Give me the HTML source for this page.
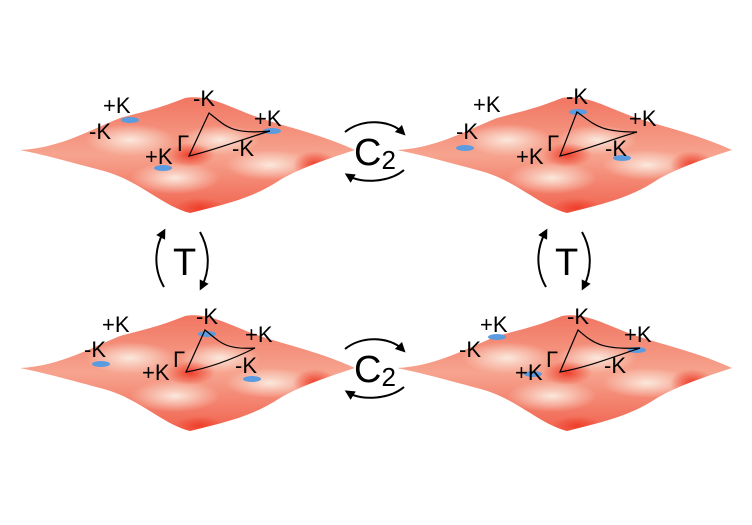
<!DOCTYPE html>
<html><head><style>body{margin:0;background:#fff}svg{display:block}text{font-family:"Liberation Sans",sans-serif;fill:#000}</style></head><body>
<svg width="752" height="525" viewBox="0 0 752 525" xmlns="http://www.w3.org/2000/svg">
<defs>
<linearGradient id="g" x1="0" y1="0" x2="0" y2="1">
<stop offset="0" stop-color="#f0705c"/><stop offset="0.5" stop-color="#f6a48f"/><stop offset="1" stop-color="#f05a46"/></linearGradient>
<radialGradient id="l"><stop offset="0" stop-color="#fbe8dc"/><stop offset="1" stop-color="#fbe8dc" stop-opacity="0"/></radialGradient>
<radialGradient id="d"><stop offset="0" stop-color="#ee3e2a"/><stop offset="1" stop-color="#ee3e2a" stop-opacity="0"/></radialGradient>
<clipPath id="c"><path d="M20,150 C60,148 90,130 120,118 C150,110 160,108 185,98 C210,94 230,108 260,118 C290,128 320,134 355,150 C330,158 300,168 280,180 C250,200 220,205 190,213 C160,205 140,180 100,170 C70,162 45,155 20,150 Z"/></clipPath>
<g id="s">
<g clip-path="url(#c)">
<rect x="0" y="90" width="360" height="130" fill="url(#g)"/>
<ellipse cx="130" cy="140" rx="45" ry="16" fill="url(#l)"/>
<ellipse cx="220" cy="140" rx="40" ry="15" fill="url(#l)"/>
<ellipse cx="175" cy="178" rx="45" ry="16" fill="url(#l)"/>
<ellipse cx="270" cy="165" rx="45" ry="15" fill="url(#l)"/>
<ellipse cx="190" cy="155" rx="25" ry="12" fill="url(#d)"/>
<ellipse cx="315" cy="165" rx="22" ry="14" fill="url(#d)"/>
<ellipse cx="200" cy="208" rx="25" ry="10" fill="url(#d)"/>
</g></g>
<marker id="a" markerWidth="5" markerHeight="5" refX="2.5" refY="2.5" orient="auto"><path d="M0,0L5,2.5L0,5Z" fill="#000"/></marker>
</defs>
<use href="#s"/>
<use href="#s" transform="translate(377,0)"/>
<use href="#s" transform="translate(0,218)"/>
<use href="#s" transform="translate(377,218)"/>
<g fill="#5b9be0">
<ellipse cx="130" cy="120" rx="9" ry="3"/><ellipse cx="163" cy="168" rx="9" ry="3"/><ellipse cx="272" cy="131" rx="9" ry="3"/>
<ellipse cx="465" cy="148" rx="9" ry="3"/><ellipse cx="578" cy="112" rx="9" ry="3"/><ellipse cx="622" cy="158" rx="9" ry="3"/>
<ellipse cx="101" cy="364" rx="9" ry="3"/><ellipse cx="207" cy="334" rx="9" ry="3"/><ellipse cx="252" cy="379" rx="9" ry="3"/>
<ellipse cx="497" cy="337" rx="9" ry="3"/><ellipse cx="533" cy="374" rx="9" ry="3"/><ellipse cx="637" cy="350" rx="9" ry="3"/>
</g>
<g fill="none" stroke="#000" stroke-width="1.2">
<path d="M189,156 L209,113 C225,125 230,135 270,131 C240,140 215,150 189,156Z"/>
<path d="M560,156 L577,112 C595,125 600,132 637,132 C610,140 585,150 560,156Z"/>
<path d="M186,372 L205,330 C220,342 225,350 255,348 C235,358 210,368 186,372Z"/>
<path d="M560,372 L578,330 C592,342 600,350 640,348 C610,358 585,368 560,372Z"/>
</g>
<g font-size="22">
<text x="103" y="113">+K</text><text x="89" y="139">-K</text><text x="193" y="106">-K</text><text x="254" y="126">+K</text><text x="177" y="151">Γ</text><text x="145" y="164">+K</text><text x="232" y="156">-K</text>
<text x="473" y="112">+K</text><text x="456" y="139">-K</text><text x="566" y="104">-K</text><text x="629" y="126">+K</text><text x="547" y="151">Γ</text><text x="516" y="164">+K</text><text x="605" y="156">-K</text>
<text x="102" y="332">+K</text><text x="84" y="357">-K</text><text x="196" y="324">-K</text><text x="245" y="342">+K</text><text x="173" y="367">Γ</text><text x="142" y="380">+K</text><text x="235" y="373">-K</text>
<text x="480" y="332">+K</text><text x="459" y="357">-K</text><text x="567" y="324">-K</text><text x="624" y="342">+K</text><text x="546" y="367">Γ</text><text x="515" y="380">+K</text><text x="604" y="373">-K</text>
</g>
<g font-size="38"><text x="354" y="165">C<tspan font-size="26" dy="4">2</tspan></text><text x="354" y="382">C<tspan font-size="26" dy="4">2</tspan></text>
<text x="173" y="275">T</text><text x="555" y="275">T</text></g>
<g fill="none" stroke="#000" stroke-width="2" marker-end="url(#a)">
<path d="M345,132 C362,118 390,120 402,132"/><path d="M404,170 C390,182 362,184 349,176"/>
<path d="M345,349 C362,335 390,337 402,349"/><path d="M404,387 C390,399 362,401 349,393"/>
<path d="M164,287 C154,270 154,250 163,233"/><path d="M200,232 C210,250 210,270 202,286"/>
<path d="M546,287 C536,270 536,250 545,233"/><path d="M582,232 C592,250 592,270 584,286"/>
</g>
</svg>
</body></html>
